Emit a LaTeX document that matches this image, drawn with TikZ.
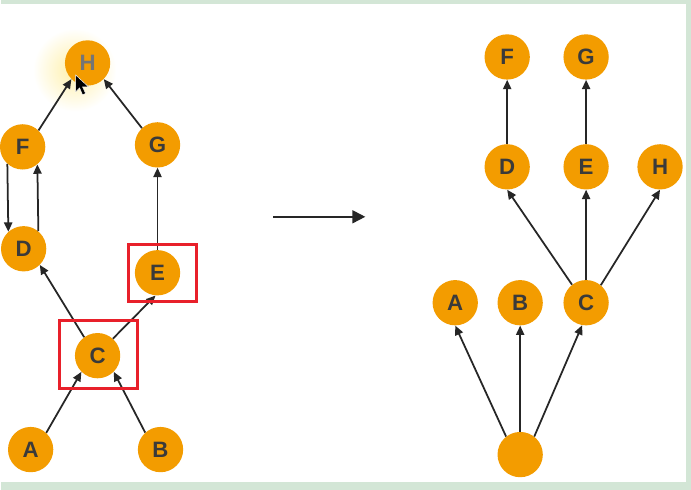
\documentclass[tikz,border=0pt]{standalone}
\usepackage{fontspec}
\setsansfont{Liberation Sans}
\usetikzlibrary{positioning, arrows.meta}
\definecolor{Node_Orange}{HTML}{F39C00}
\definecolor{Label_Gray}{HTML}{3A3A3A}
\definecolor{Frame_Green}{HTML}{D3E6D6}
\definecolor{Box_Red}{HTML}{E8202A}
\definecolor{Glow_Yellow}{HTML}{FFF0A8}

\begin{document}
\begin{tikzpicture}[x=0.03cm, y=-0.03cm,
  vtx/.style={circle, fill=Node_Orange, minimum size=1.36cm, inner sep=0pt,
    text=Label_Gray, font=\sffamily\bfseries\fontsize{19}{19}\selectfont},
  arr/.style={-{Triangle[length=8pt, width=7pt]}, line width=1.5pt, black!85}]
  % Frame
  \fill[Frame_Green] (0,0) rectangle (691,490);
  \fill[white] (0,4) rectangle (686,482);
  % Cursor glow behind H
  \shade[inner color=Glow_Yellow, outer color=white] (74,70) circle (1.25cm);
  % Left graph
  \node[vtx, text=Label_Gray!70] (lH) at (87,63) {H};
  \node[vtx] (lF) at (22,147) {F};
  \node[vtx] (lG) at (157,145) {G};
  \node[vtx] (lD) at (23,249) {D};
  \node[vtx] (lE) at (157,273) {E};
  \node[vtx] (lC) at (97,356) {C};
  \node[vtx] (lA) at (30,450) {A};
  \node[vtx] (lB) at (160,450) {B};
  \draw[arr] (lA.47) -- (lC.225);
  \draw[arr] (lB.132) -- (lC.315);
  \draw[arr] (lC.126) -- (lD.315);
  \draw[arr] (lC.48) -- (lE.265);
  \draw[arr] (lE) -- (lG);
  \draw[arr] (lG.133) -- (lH.315);
  \draw[arr] (lF.46) -- (lH.225);
  \draw[arr] (lF.228) -- (lD.132);
  \draw[arr] (lD.50) -- (lF.310);
  % Highlight boxes
  \draw[Box_Red, line width=2.5pt] (128,245) rectangle (196,302);
  \draw[Box_Red, line width=2.5pt] (59,321) rectangle (137,389);
  % Mouse cursor
  \filldraw[black, draw=white, line width=0.4pt] (75,75) -- ++(0,17) -- ++(4,-4)
    -- ++(3,7) -- ++(3,-1.5) -- ++(-3,-6.5) -- ++(6,0) -- cycle;
  % Transform arrow
  \coordinate (arrS) at (273,217);
  \coordinate (arrE) at (365,217);
  \draw[-{Triangle[length=11pt, width=11pt]}, line width=1.5pt, black!85] (arrS) -- (arrE);
  % Right graph
  \node[vtx] (rF) at (507,57) {F};
  \node[vtx] (rG) at (586,57) {G};
  \node[vtx] (rD) at (507,167) {D};
  \node[vtx] (rE) at (586,167) {E};
  \node[vtx] (rH) at (660,167) {H};
  \node[vtx] (rA) at (455,303) {A};
  \node[vtx] (rB) at (520,303) {B};
  \node[vtx] (rC) at (586,303) {C};
  \node[vtx] (rRoot) at (520,455) {};
  \draw[arr] (rRoot.128) -- (rA.south);
  \draw[arr] (rRoot) -- (rB);
  \draw[arr] (rRoot.52) -- (rC.260);
  \draw[arr] (rC.128) -- (rD.south);
  \draw[arr] (rC) -- (rE);
  \draw[arr] (rC.50) -- (rH.south);
  \draw[arr] (rD) -- (rF);
  \draw[arr] (rE) -- (rG);
\end{tikzpicture}
\end{document}
